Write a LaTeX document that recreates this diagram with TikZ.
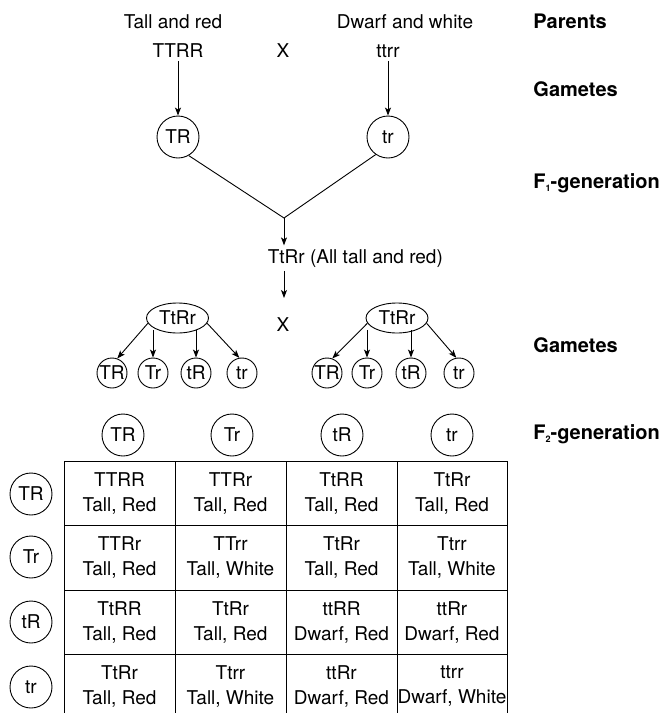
\documentclass[tikz,border=0pt]{standalone}
\usepackage{fontspec}
\setmainfont{TeX Gyre Heros}
\usetikzlibrary{arrows.meta,positioning,shapes.geometric}

\tikzset{
  gam/.style={circle, draw, inner sep=0pt, minimum size=30pt},
  biggam/.style={circle, draw, inner sep=0pt, minimum size=42pt},
  het/.style={ellipse, draw, inner sep=0pt, minimum width=62pt, minimum height=30pt},
  lab/.style={anchor=base west, inner sep=0pt, font=\fontsize{20}{24}\selectfont\bfseries},
  cell/.style={align=center, font=\fontsize{19}{25}\selectfont},
  arr/.style={-{Stealth[length=8pt,width=6pt,inset=2pt]}},
}
\newcommand{\gensub}[1]{\raisebox{-3pt}{\fontsize{9}{9}\selectfont #1}}

\begin{document}
\begin{tikzpicture}[x=1pt, y=-1pt, line width=0.9pt, font=\fontsize{19}{23}\selectfont]
\useasboundingbox (0,0) rectangle (664,713);
% Etichette a destra
\node[lab] (lpar) at (533,28) {Parents};
\node[lab] (lgam1) at (533,96) {Gametes};
\node[lab] (lf1) at (533,188) {F\gensub{1}-generation};
\node[lab] (lgam2) at (533,352) {Gametes};
\node[lab] (lf2) at (533,439) {F\gensub{2}-generation};
% Genitori
\node[anchor=base] (tallred) at (173,28) {Tall and red};
\node[anchor=base] (dwarfwhite) at (405,28) {Dwarf and white};
\node[anchor=base] (pTT) at (178,57) {TTRR};
\node[anchor=base] (cross1) at (283,57) {X};
\node[anchor=base] (ptt) at (388,57) {ttrr};
% Gameti dei genitori
\node[biggam] (gTR) at (178,137) {TR};
\node[biggam] (gtr) at (388,137) {tr};
\draw[arr] (pTT) -- (gTR);
\draw[arr] (ptt) -- (gtr);
\coordinate (join) at (284,218);
\draw (gTR.-60) -- (join) -- (gtr.-125);
% F1
\node[anchor=base west] (f1) at (264,263) {TtRr (All tall and red)};
\draw[arr] (join) -- (join |- f1.north);
\coordinate (f1end) at (284,298);
\draw[arr] (f1.south -| join) -- (f1end);
% Incrocio F1 x F1
\node[het] (hetL) at (177.5,318) {TtRr};
\node (cross2) at (283,325) {X};
\node[het] (hetR) at (397,318) {TtRr};
% Gameti F1
\node[gam] (gL1) at (112,373) {TR};
\node[gam] (gL2) at (153,373) {Tr};
\node[gam] (gL3) at (196,373) {tR};
\node[gam] (gL4) at (242,373) {tr};
\node[gam] (gR1) at (327,373) {TR};
\node[gam] (gR2) at (367,373) {Tr};
\node[gam] (gR3) at (411,373) {tR};
\node[gam] (gR4) at (459,373) {tr};
\draw[arr] (hetL.190) -- (gL1.70);
\draw[arr] (gL2 |- hetL.-150) -- (gL2);
\draw[arr] (gL3 |- hetL.-30) -- (gL3);
\draw[arr] (hetL.-10) -- (gL4.100);
\draw[arr] (hetR.190) -- (gR1.70);
\draw[arr] (gR2 |- hetR.-150) -- (gR2);
\draw[arr] (gR3 |- hetR.-30) -- (gR3);
\draw[arr] (hetR.-10) -- (gR4.100);
% Header colonne e righe
\node[biggam] (hTR) at (123,435) {TR};
\node[biggam] (hTr) at (232,435) {Tr};
\node[biggam] (htR) at (342,435) {tR};
\node[biggam] (htr) at (452,435) {tr};
\node[biggam] (rTR) at (31,494) {TR};
\node[biggam] (rTr) at (31,557) {Tr};
\node[biggam] (rtR) at (31,622) {tR};
\node[biggam] (rtr) at (31,687) {tr};
% Griglia
\foreach \y in {461,525,590,654} \draw (64,\y) -- (507,\y);
\foreach \x in {64,175,286,397,507} \draw (\x,461) -- (\x,713);
% Valori
\node[cell] (c11) at (119.5,493) {TTRR\\Tall, Red};
\node[cell] (c12) at (230.5,493) {TTRr\\Tall, Red};
\node[cell] (c13) at (341.5,493) {TtRR\\Tall, Red};
\node[cell] (c14) at (452,493) {TtRr\\Tall, Red};
\node[cell] (c21) at (119.5,557.5) {TTRr\\Tall, Red};
\node[cell] (c22) at (230.5,557.5) {TTrr\\Tall, White};
\node[cell] (c23) at (341.5,557.5) {TtRr\\Tall, Red};
\node[cell] (c24) at (452,557.5) {Ttrr\\Tall, White};
\node[cell] (c31) at (119.5,622) {TtRR\\Tall, Red};
\node[cell] (c32) at (230.5,622) {TtRr\\Tall, Red};
\node[cell] (c33) at (341.5,622) {ttRR\\Dwarf, Red};
\node[cell] (c34) at (452,622) {ttRr\\Dwarf, Red};
\node[cell] (c41) at (119.5,686) {TtRr\\Tall, Red};
\node[cell] (c42) at (230.5,686) {Ttrr\\Tall, White};
\node[cell] (c43) at (341.5,686) {ttRr\\Dwarf, Red};
\node[cell] (c44) at (452,686) {ttrr\\Dwarf, White};
\end{tikzpicture}
\end{document}
